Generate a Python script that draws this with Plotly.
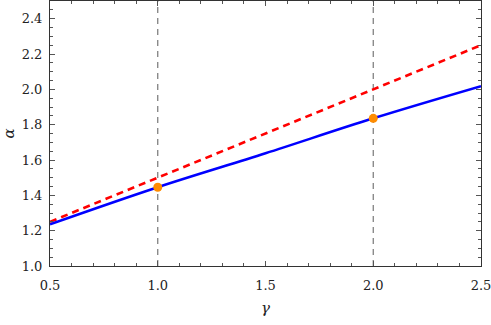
import plotly.graph_objects as go

gamma = [0.5, 1.0, 1.5, 2.0, 2.5]
alpha_solid = [1.236, 1.446, 1.638, 1.836, 2.018]
alpha_dashed = [1.25, 1.5, 1.75, 2.0, 2.25]
marked_gamma = [1.0, 2.0]
marked_alpha = [1.446, 1.836]
x_ticks = [0.5, 1.0, 1.5, 2.0, 2.5]
x_tick_labels = ["0.5", "1.0", "1.5", "2.0", "2.5"]
y_ticks = [1.0, 1.2, 1.4, 1.6, 1.8, 2.0, 2.2, 2.4]
y_tick_labels = ["1.0", "1.2", "1.4", "1.6", "1.8", "2.0", "2.2", "2.4"]
x_range = [0.5, 2.5]
y_range = [1.0, 2.5]

FONT = "DejaVu Serif"

fig = go.Figure()

for g in marked_gamma:
    fig.add_trace(go.Scatter(
        x=[g, g], y=y_range, mode="lines",
        line=dict(color="#777777", width=1.2, dash="6px,5px"),
        showlegend=False, hoverinfo="skip"))

fig.add_trace(go.Scatter(
    x=gamma, y=alpha_dashed, mode="lines",
    line=dict(color="#FF0000", width=2.6, dash="7px,5px"),
    showlegend=False))

fig.add_trace(go.Scatter(
    x=gamma, y=alpha_solid, mode="lines", line_shape="spline",
    line=dict(color="#0000FF", width=2.6),
    showlegend=False))

fig.add_trace(go.Scatter(
    x=marked_gamma, y=marked_alpha, mode="markers",
    marker=dict(color="#FF8C00", size=9),
    showlegend=False))

axis_common = dict(
    showgrid=False, zeroline=False, automargin=False,
    showline=True, linecolor="#333333", linewidth=1,
    mirror="allticks", ticks="inside", ticklen=5, tickwidth=1,
    tickcolor="#555555", ticklabeloverflow="allow",
    tickfont=dict(family=FONT, size=13, color="#222222"),
)

fig.update_xaxes(
    range=x_range, tickvals=x_ticks, ticktext=x_tick_labels,
    minor=dict(dtick=0.1, ticks="inside", ticklen=3, tickcolor="#555555"),
    title=dict(text="<i>γ</i>", font=dict(family=FONT, size=15, color="#222222"), standoff=10),
    ticklabelstandoff=7,
    **axis_common)
fig.update_yaxes(
    range=y_range, tickvals=y_ticks, ticktext=y_tick_labels,
    minor=dict(dtick=0.05, ticks="inside", ticklen=3, tickcolor="#555555"),
    title=dict(text="<i>α</i>", font=dict(family=FONT, size=15, color="#222222"), standoff=10),
    ticklabelstandoff=4,
    **axis_common)

fig.update_layout(
    width=491, height=325,
    margin=dict(l=50, r=10, t=1, b=59),
    plot_bgcolor="white", paper_bgcolor="white",
    font=dict(family=FONT),
)

fig.write_html("out.html", config={"displayModeBar": False},
               post_script="document.body.style.margin='0';")
